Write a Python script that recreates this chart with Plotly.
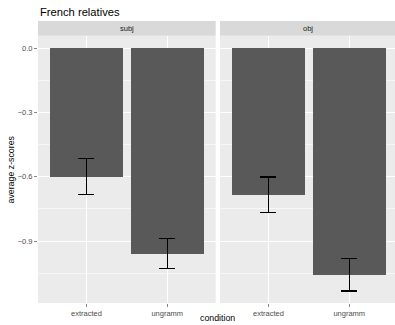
import plotly.graph_objects as go

# Data
panels = ["subj", "obj"]
conditions = ["extracted", "ungramm"]
subj_means = [-0.600, -0.958]
subj_se = [0.084, 0.072]
obj_means = [-0.684, -1.057]
obj_se = [0.083, 0.076]
y_tickvals = [0.0, -0.3, -0.6, -0.9]
y_ticktext = ["0.0", "\u22120.3", "\u22120.6", "\u22120.9"]
y_minor = [-0.15, -0.45, -0.75, -1.05]

W, H = 395, 325
ML, MR, MT, MB = 38, 0, 36, 22
FONT = "Liberation Sans, Arial, sans-serif"
BAR = "#595959"
PANEL_BG = "#EBEBEB"
STRIP_BG = "#D9D9D9"

fig = go.Figure()
for i, (means, se) in enumerate([(subj_means, subj_se), (obj_means, obj_se)]):
    fig.add_trace(go.Bar(
        x=conditions, y=means, width=0.9, marker=dict(color=BAR, line=dict(width=0)),
        error_y=dict(type="data", array=se, visible=True, color="black", thickness=1.1, width=8),
        xaxis="x" if i == 0 else "x2", yaxis="y" if i == 0 else "y2", showlegend=False,
        hoverinfo="skip",
    ))

pw = W - ML - MR
ph = H - MT - MB
d1 = [0, (215.7 - ML) / pw]
d2 = [(220 - ML) / pw, 1]
yr = [-1.189, 0.057]

xcommon = dict(
    type="category", showgrid=True, gridcolor="white", gridwidth=1.1, zeroline=False,
    ticks="outside", ticklen=3, tickwidth=0.6, tickcolor="#333333", automargin=False,
    tickfont=dict(family=FONT, size=7.5, color="#4D4D4D"), showline=False,
)
ycommon = dict(
    range=yr, showgrid=True, gridcolor="white", gridwidth=1.1, zeroline=False,
    tickvals=y_tickvals, ticktext=y_ticktext, automargin=False,
    minor=dict(tickvals=y_minor, showgrid=True, gridcolor="white", gridwidth=0.55, ticks=""),
    showline=False,
)
fig.update_layout(
    template="none",
    width=W, height=H, margin=dict(l=ML, r=MR, t=MT, b=MB, pad=0), autosize=False,
    paper_bgcolor="white", plot_bgcolor=PANEL_BG, bargap=0,
    xaxis=dict(domain=d1, range=[-0.6, 1.6], anchor="y", **xcommon),
    xaxis2=dict(domain=d2, range=[-0.6, -0.6 + 175 / 80.8], anchor="y2", **xcommon),
    yaxis=dict(domain=[0, 1], anchor="x", ticks="outside", ticklen=3, tickwidth=0.6,
               tickcolor="#333333", tickfont=dict(family=FONT, size=7.5, color="#4D4D4D"), **ycommon),
    yaxis2=dict(domain=[0, 1], anchor="x2", showticklabels=False, ticks="", **ycommon),
    font=dict(family=FONT),
)

# Strips
strip_top, strip_bot = 21, 35.7
for name, dom in zip(panels, [d1, d2]):
    fig.add_shape(type="rect", xref="paper", yref="paper",
                  x0=dom[0], x1=dom[1], y0=1 + (MT - strip_bot) / ph,
                  y1=1 + (MT - strip_top) / ph,
                  fillcolor=STRIP_BG, line=dict(width=0), layer="below")
    fig.add_annotation(text=name, xref="paper", yref="paper",
                       x=(dom[0] + dom[1]) / 2, y=1 + (MT - (strip_top + strip_bot) / 2) / ph,
                       showarrow=False, font=dict(family=FONT, size=7.5, color="#1A1A1A"),
                       xanchor="center", yanchor="middle")

# Title
fig.add_annotation(text="French relatives", xref="paper", yref="paper",
                   x=0, y=1 + (MT - 12) / ph, showarrow=False, xanchor="left", yanchor="middle",
                   font=dict(family=FONT, size=11.2, color="black"))
# Axis titles
fig.add_annotation(text="average z-scores", xref="paper", yref="paper",
                   x=(10 - ML) / pw, y=0.5, textangle=-90, showarrow=False,
                   xanchor="center", yanchor="middle", font=dict(family=FONT, size=8.8, color="black"))
fig.add_annotation(text="condition", xref="paper", yref="paper",
                   x=(217 - ML) / pw, y=-(318 - (H - MB)) / ph, showarrow=False,
                   xanchor="center", yanchor="middle", font=dict(family=FONT, size=8.8, color="black"))

fig.write_html("out.html", config={"displayModeBar": False, "staticPlot": True},
               post_script="document.body.style.margin='0';document.body.style.overflow='hidden';")
